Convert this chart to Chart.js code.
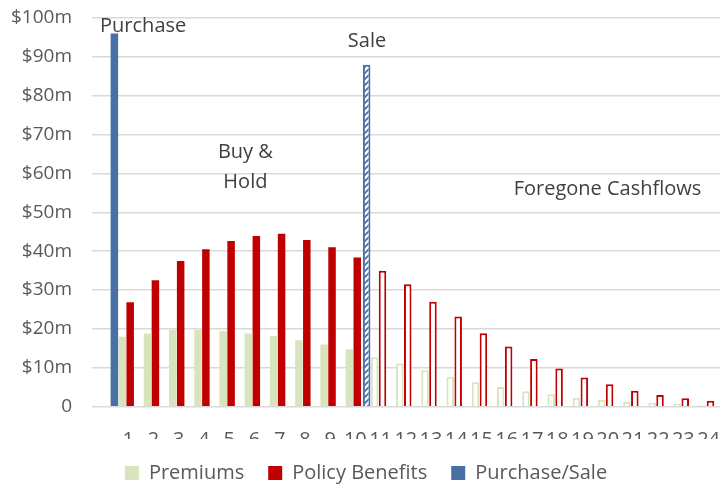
<!DOCTYPE html>
<html><head><meta charset="utf-8">
<script src="https://cdn.jsdelivr.net/npm/chart.js@4/dist/chart.umd.min.js"></script>
<style>html,body{margin:0;padding:0;background:#fff}</style>
</head><body>
<canvas id="c" width="720" height="485" style="width:720px;height:485px;display:block"></canvas>
<script>
// ---- data ----
const years = [1,2,3,4,5,6,7,8,9,10,11,12,13,14,15,16,17,18,19,20,21,22,23,24];
const xTickLabels = years.map(String);
const premiums = [18.0,18.8,19.8,19.8,19.5,18.8,18.2,17.1,16.0,14.8,12.7,11.1,9.4,7.7,6.3,5.1,4.0,3.2,2.3,1.8,1.3,1.0,0.7,0.4];
const policyBenefits = [26.9,32.5,37.5,40.5,42.6,43.9,44.5,42.9,41.0,38.4,35.0,31.5,27.0,23.2,18.9,15.5,12.3,9.8,7.5,5.8,4.1,3.0,2.2,1.5];
const purchaseSale = [96,null,null,null,null,null,null,null,null,null,88,null,null,null,null,null,null,null,null,null,null,null,null,null];
const holdYears = 10;
const yTickValues = [0,10,20,30,40,50,60,70,80,90,100];
const yTickLabels = ['0','$10m','$20m','$30m','$40m','$50m','$60m','$70m','$80m','$90m','$100m'];
const legendOrder = ['Premiums','Policy Benefits','Purchase/Sale'];
const annotations = [
  {text:'Purchase', x:0.12, y:96.4, align:'left'},
  {text:'Sale', x:10.70, y:92.6, align:'center'},
  {text:'Buy &', x:5.88, y:64.06, align:'center'},
  {text:'Hold', x:5.88, y:56.2, align:'center'},
  {text:'Foregone Cashflows', x:20.23, y:54.5, align:'center'}
];

// ---- styles ----
const BLUE = '#4a6fa5', RED = '#c00000', GREEN = '#d8e4bc';
const FONT = 'Open Sans';
function hatch() {
  const c = document.createElement('canvas'); c.width = 6; c.height = 6;
  const g = c.getContext('2d');
  g.fillStyle = '#ffffff'; g.fillRect(0,0,6,6);
  g.strokeStyle = BLUE; g.lineWidth = 1.8;
  g.beginPath();
  g.moveTo(-1,7); g.lineTo(7,-1);
  g.moveTo(-4,4); g.lineTo(4,-4);
  g.moveTo(2,10); g.lineTo(10,2);
  g.stroke();
  return g.createPattern(c,'repeat');
}
const HATCH = hatch();
const held = ctx => ctx.dataIndex === undefined || years[ctx.dataIndex] <= holdYears;

const annotationPlugin = {
  id: 'annot',
  afterDatasetsDraw(chart) {
    const {ctx, scales:{x, y}} = chart;
    ctx.save();
    ctx.fillStyle = '#404040';
    ctx.font = '20px "' + FONT + '"';
    ctx.textBaseline = 'alphabetic';
    annotations.forEach(a => {
      ctx.textAlign = a.align;
      ctx.fillText(a.text, x.getPixelForValue(a.x), y.getPixelForValue(a.y));
    });
    ctx.restore();
  }
};

new Chart(document.getElementById('c'), {
  type: 'bar',
  data: {
    datasets: [
      {
        label: 'Purchase/Sale',
        data: years.map((v,i) => ({x: v, y: purchaseSale[i]})),
        backgroundColor: ctx => held(ctx) ? BLUE : HATCH,
        borderColor: BLUE,
        borderWidth: ctx => held(ctx) ? 0 : 2
      },
      {
        label: 'Premiums',
        data: years.map((v,i) => ({x: v, y: premiums[i]})),
        backgroundColor: ctx => held(ctx) ? GREEN : '#ffffff',
        borderColor: GREEN,
        borderWidth: ctx => held(ctx) ? 0 : 2
      },
      {
        label: 'Policy Benefits',
        data: years.map((v,i) => ({x: v, y: policyBenefits[i]})),
        backgroundColor: ctx => held(ctx) ? RED : '#ffffff',
        borderColor: RED,
        borderWidth: ctx => held(ctx) ? 0 : 2
      }
    ]
  },
  options: {
    responsive: false,
    animation: false,
    devicePixelRatio: 1,
    categoryPercentage: 0.94,
    barPercentage: 0.95,
    layout: {padding: {top: 18, left: 12, right: 0, bottom: -8}},
    scales: {
      x: {
        type: 'linear', min: -0.2, max: 24.69, offset: false,
        afterBuildTicks: a => { a.ticks = years.map(v => ({value: v})); },
        afterFit: s => { s.height = 32.3; },
        grid: {display: false, drawTicks: true, tickLength: 19},
        border: {display: false},
        ticks: {
          autoSkip: false, maxRotation: 0, minRotation: 0, labelOffset: 6, padding: 3,
          color: '#595959', font: {family: FONT, size: 20},
          callback: v => { const i = years.indexOf(v); return i >= 0 ? xTickLabels[i] : ''; }
        }
      },
      y: {
        min: 0, max: 100,
        afterBuildTicks: a => { a.ticks = yTickValues.map(v => ({value: v})); },
        afterFit: s => { s.width = 80; },
        grid: {color: '#d9d9d9', lineWidth: 1.5, drawTicks: true, tickLength: 20, tickColor: 'rgba(0,0,0,0)'},
        border: {display: false},
        ticks: {
          padding: 0, color: '#595959', font: {family: FONT, size: 19},
          callback: v => { const i = yTickValues.indexOf(v); return i >= 0 ? yTickLabels[i] : ''; }
        }
      }
    },
    plugins: {
      tooltip: {enabled: false},
      legend: {
        position: 'bottom',
        labels: {
          boxWidth: 14, boxHeight: 14, padding: 24,
          color: '#595959', font: {family: FONT, size: 20},
          sort: (a, b) => legendOrder.indexOf(a.text) - legendOrder.indexOf(b.text)
        }
      }
    }
  },
  plugins: [annotationPlugin]
});
</script>
</body></html>
